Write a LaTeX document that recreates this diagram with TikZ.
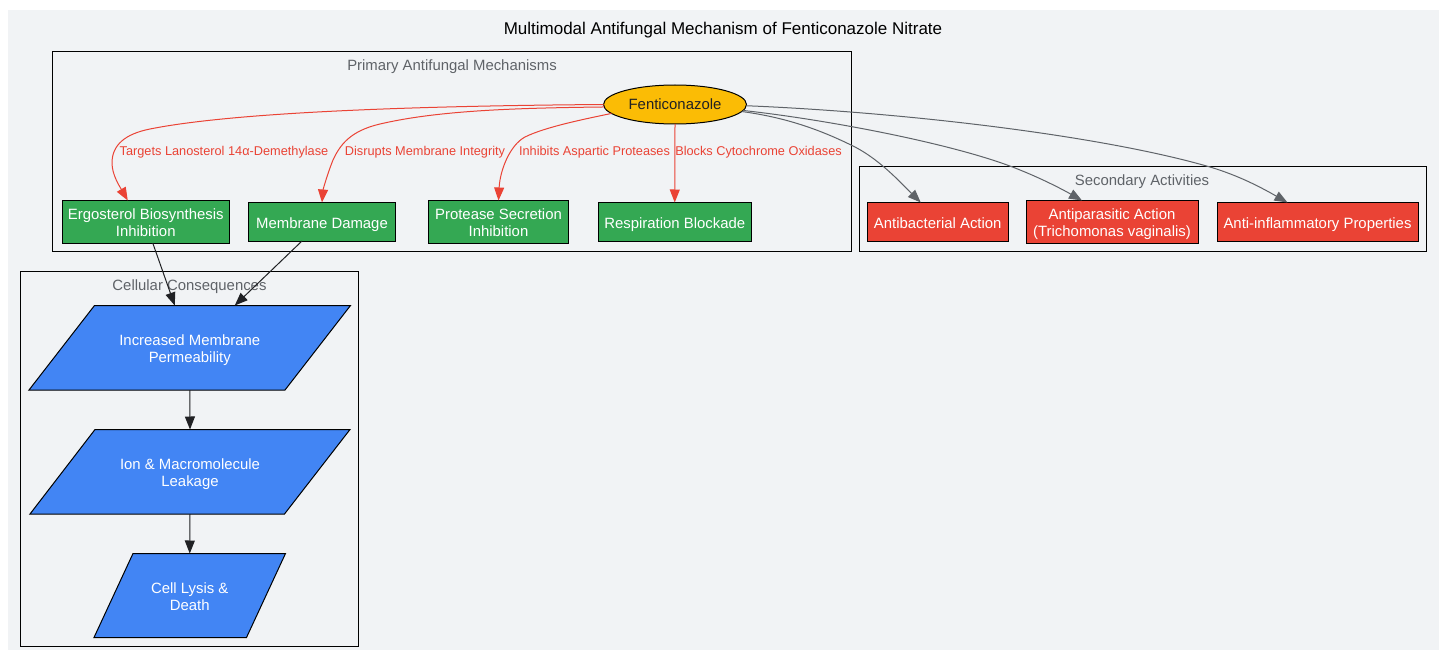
\documentclass[tikz,border=0pt]{standalone}
\usepackage{fontspec}
\setmainfont{Liberation Sans}
\usetikzlibrary{arrows.meta,shapes.geometric}
\definecolor{bgc}{HTML}{F1F3F5}
\definecolor{gr}{HTML}{34A853}
\definecolor{rd}{HTML}{EA4335}
\definecolor{bl}{HTML}{4285F4}
\definecolor{yl}{HTML}{FBBC05}
\definecolor{gy}{HTML}{5F6368}
\definecolor{dk}{HTML}{202124}
\tikzset{
 x=1pt,y=-1pt,
 base/.style={inner sep=0pt,outer sep=0pt,align=center,font=\fontsize{14.9}{17}\selectfont},
 oneline/.style={text height=15pt,text depth=2pt},
 twoline/.style={text height=31pt,text depth=2pt},
 cluster/.style={draw=black,line width=1pt,inner sep=0pt,outer sep=0pt},
 ctitle/.style={base,text=gy},
 gbox/.style={base,draw=black,line width=1pt,fill=gr,text=white},
 rbox/.style={base,draw=black,line width=1pt,fill=rd,text=white},
 ptext/.style={base,text=white,twoline},
 pshape/.style={draw=black,line width=1pt,fill=bl},
 elabel/.style={inner sep=0pt,font=\fontsize{12.75}{15}\selectfont,text=rd},
 redge/.style={draw=rd,line width=1pt,-{Triangle[length=13pt,width=10pt]}},
 gedge/.style={draw=gy,line width=1pt,-{Triangle[length=13pt,width=10pt]}},
 dedge/.style={draw=dk,line width=1pt,-{Triangle[length=13pt,width=10pt]}},
}
\begin{document}
\begin{tikzpicture}
\useasboundingbox (0,0) rectangle (1447,650);
\fill[bgc] (8,10) rectangle (1439,650);
\node[base,font=\fontsize{17}{19}\selectfont] (title) at (723,30) {Multimodal Antifungal Mechanism of Fenticonazole Nitrate};
% clusters
\node[cluster,minimum width=798.3pt,minimum height=199.5pt] (cprim) at (451.85,151.25) {};
\node[cluster,minimum width=337.8pt,minimum height=374.5pt] (ccell) at (189.6,458.75) {};
\node[cluster,minimum width=566.5pt,minimum height=84.5pt] (csec) at (1142.75,208.75) {};
\node[ctitle] (tprim) at (452,67) {Primary Antifungal Mechanisms};
\node[ctitle] (tsec) at (1142,182) {Secondary Activities};
\node[ctitle] (tcell) at (189.5,287) {Cellular Consequences};
% nodes
\node[base,draw=black,line width=1pt,fill=yl,text=dk,shape=ellipse,minimum width=143pt,minimum height=39pt] (fent) at (675,104.5) {Fenticonazole};
\node[gbox,twoline,minimum width=167.5pt,minimum height=42.5pt] (ergo) at (145.75,221.75) {Ergosterol Biosynthesis\\Inhibition};
\node[gbox,oneline,minimum width=147pt,minimum height=38.5pt] (memb) at (322,221.75) {Membrane Damage};
\node[gbox,twoline,minimum width=140pt,minimum height=42.5pt] (prot) at (498.5,221.75) {Protease Secretion\\Inhibition};
\node[gbox,oneline,minimum width=153.5pt,minimum height=38.5pt] (resp) at (674.75,221.75) {Respiration Blockade};
\node[rbox,oneline,minimum width=140.5pt,minimum height=38.5pt] (abac) at (937.75,221.75) {Antibacterial Action};
\node[rbox,twoline,minimum width=172pt,minimum height=42.5pt] (apar) at (1112,221.75) {Antiparasitic Action\\(Trichomonas vaginalis)};
\node[rbox,oneline,minimum width=201pt,minimum height=38.5pt] (ainf) at (1317.5,221.75) {Anti-inflammatory Properties};
% parallelograms
\draw[pshape] (94.5,305.5) -- (350.5,305.5) -- (285,390) -- (29,390) -- cycle;
\node[ptext,minimum width=321.5pt,minimum height=84.5pt] (incr) at (189.75,347.75) {Increased Membrane\\Permeability};
\draw[pshape] (95,429.5) -- (350,429.5) -- (284.5,514) -- (30,514) -- cycle;
\node[ptext,minimum width=320pt,minimum height=84.5pt] (leak) at (190,471.75) {Ion \& Macromolecule\\Leakage};
\draw[pshape] (133,553.5) -- (285.5,553.5) -- (246.5,637.5) -- (94,637.5) -- cycle;
\node[ptext,minimum width=191.5pt,minimum height=84pt] (lysis) at (189.75,595.5) {Cell Lysis \&\\Death};
% edges
\draw[redge] (fent.west) .. controls (400,106) and (230,113) .. (150,129) .. controls (125,134) and (112,145) .. (112,163) .. controls (112,175) and (120,187) .. ([xshift=-18pt]ergo.north);
\draw[redge] (fent.182) .. controls (520,108) and (440,110) .. (380,124) .. controls (350,131) and (340,145) .. (333,160) .. controls (327,175) and (323,190) .. (memb.north);
\draw[redge] (fent.188.7) .. controls (585,119) and (545,127) .. (525,137) .. controls (510,145) and (500,170) .. (prot.north);
\draw[redge] (fent.south) -- (resp.north);
\draw[gedge] (fent.354.5) .. controls (790,118) and (825,132) .. (855,147) .. controls (880,160) and (900,182) .. ([xshift=-17pt]abac.north);
\draw[gedge] (fent.355.5) .. controls (830,120) and (960,145) .. (1020,170) .. controls (1040,178) and (1060,188) .. ([xshift=-30pt]apar.north);
\draw[gedge] (fent.359) .. controls (900,112) and (1100,135) .. (1210,167) .. controls (1240,176) and (1262,188) .. ([xshift=-30pt]ainf.north);
\draw[dedge] ([xshift=7pt]ergo.south) -- ([xshift=-15pt]incr.north);
\draw[dedge] ([xshift=-20pt]memb.south) -- ([xshift=45pt]incr.north);
\draw[dedge] (incr.south) -- (leak.north);
\draw[dedge] (leak.south) -- (lysis.north);
% edge labels
\node[elabel] (l1) at (224,152) {Targets Lanosterol 14α-Demethylase};
\node[elabel] (l2) at (425,152) {Disrupts Membrane Integrity};
\node[elabel] (l3) at (594.5,152) {Inhibits Aspartic Proteases};
\node[elabel] (l4) at (758.5,152) {Blocks Cytochrome Oxidases};
\end{tikzpicture}
\end{document}
